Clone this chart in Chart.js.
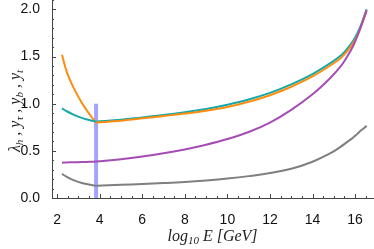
<!DOCTYPE html>
<html>
<head>
<meta charset="utf-8">
<script src="https://cdn.jsdelivr.net/npm/chart.js@4"></script>
<style>
  html, body { margin: 0; padding: 0; background: #fff; }
  #wrap { width: 374px; height: 249px; }
</style>
</head>
<body>
<div id="wrap"><canvas id="myChart"></canvas></div>
<script>
// log10 E [GeV] grid, below and above the threshold at 3.83
const leftE  = [2.23, 2.45, 2.77, 3.16, 3.55, 3.83];
const rightE = [3.83, 5, 6, 7, 8, 9, 10, 11, 12, 13, 14, 14.8, 15.3, 15.6, 15.9, 16.1, 16.3, 16.54];

const yTopL    = [0.95, 0.92, 0.885, 0.85, 0.825, 0.81];
const yTopR    = [0.81, 0.83, 0.855, 0.88, 0.91, 0.945, 0.99, 1.045, 1.115, 1.205, 1.315, 1.425, 1.505, 1.575, 1.665, 1.745, 1.85, 2.0];
const lambdaHL = [1.52, 1.34, 1.17, 1.01, 0.88, 0.80];
const lambdaHR = [0.80, 0.82, 0.845, 0.87, 0.895, 0.925, 0.965, 1.02, 1.09, 1.18, 1.29, 1.40, 1.48, 1.55, 1.64, 1.72, 1.83, 1.99];
const yBotL    = [0.375, 0.377, 0.379, 0.381, 0.384, 0.386];
const yBotR    = [0.386, 0.41, 0.44, 0.475, 0.515, 0.565, 0.625, 0.70, 0.80, 0.935, 1.10, 1.265, 1.39, 1.49, 1.61, 1.715, 1.835, 1.99];
const yTauL    = [0.255, 0.225, 0.19, 0.16, 0.14, 0.13];
const yTauR    = [0.13, 0.14, 0.148, 0.158, 0.17, 0.186, 0.206, 0.232, 0.265, 0.31, 0.385, 0.47, 0.54, 0.59, 0.64, 0.68, 0.72, 0.765];

// vertical marker
const markX = 3.83;
const markY = [0, 1.0];

const xTicks = [2, 4, 6, 8, 10, 12, 14, 16];
const yTicks = [0, 0.5, 1.0, 1.5, 2.0];

function seg(xs, ys, color) {
  return {
    data: xs.map((x, i) => ({ x: x, y: ys[i] })),
    borderColor: color,
    borderWidth: 2,
    pointRadius: 0,
    fill: false,
    tension: 0.4
  };
}

// tick marks pointing inward + axis titles with subscripts
const axisDeco = {
  id: 'axisDeco',
  afterDraw(chart) {
    const c = chart.ctx;
    const xs = chart.scales.x, ys = chart.scales.y;
    const a = chart.chartArea;
    c.save();
    c.strokeStyle = '#444';
    c.lineWidth = 1;
    c.beginPath();
    for (let v = 2; v <= 16.8; v += 0.5) {
      const px = Math.round(xs.getPixelForValue(v)) + 0.5;
      const len = (v % 2 === 0) ? 4 : 2;
      c.moveTo(px, a.bottom);
      c.lineTo(px, a.bottom - len);
    }
    for (let k = 0; k <= 21; k++) {
      const py = Math.round(ys.getPixelForValue(k / 10)) + 0.5;
      const len = (k % 5 === 0) ? 4 : 2;
      c.moveTo(a.left, py);
      c.lineTo(a.left + len, py);
    }
    c.stroke();

    c.fillStyle = '#222';
    const big = 'italic 16px "Liberation Serif"';
    const small = 'italic 11px "Liberation Serif"';
    drawParts(c, [['log', big, 0], ['10', small, 4], [' E [GeV]', big, 0]], (a.left + a.right) / 2, 237);

    c.translate(16, 111);
    c.rotate(-Math.PI / 2);
    drawParts(c, [['λ', big, 0], ['h', small, 4], [' , y', big, 0], ['τ', small, 4],
      [' , y', big, 0], ['b', small, 4], [' , y', big, 0], ['t', small, 4]], 0, 0);
    c.restore();
  }
};

function drawParts(c, parts, cx, cy) {
  let w = 0;
  parts.forEach(p => { c.font = p[1]; w += c.measureText(p[0]).width; });
  let x = cx - w / 2;
  c.textBaseline = 'middle';
  c.textAlign = 'left';
  parts.forEach(p => {
    c.font = p[1];
    c.fillText(p[0], x, cy + p[2]);
    x += c.measureText(p[0]).width;
  });
}

const gray = '#7f7f7f', purple = '#a64db5', orange = '#ff8c0f', teal = '#14a8a8';

const ctx = document.getElementById('myChart').getContext('2d');
new Chart(ctx, {
  type: 'line',
  data: {
    datasets: [
      seg(leftE, yTauL, gray), seg(rightE, yTauR, gray),
      seg(leftE, yBotL, purple), seg(rightE, yBotR, purple),
      seg(rightE, lambdaHR, orange),
      seg(leftE, yTopL, teal), seg(rightE, yTopR, teal),
      seg(leftE, lambdaHL, orange),
      {
        data: markY.map(v => ({ x: markX, y: v })),
        borderColor: 'rgba(125,125,255,0.7)',
        borderWidth: 4,
        pointRadius: 0,
        borderCapStyle: 'butt'
      }
    ]
  },
  options: {
    responsive: true,
    maintainAspectRatio: false,
    animation: false,
    layout: { padding: { top: 0, right: 1, left: 0, bottom: 0 } },
    plugins: { legend: { display: false }, tooltip: { enabled: false } },
    scales: {
      x: {
        type: 'linear',
        min: 1.76,
        max: 16.84,
        grid: { display: false },
        border: { display: true, color: '#444', width: 1 },
        afterBuildTicks: s => { s.ticks = xTicks.map(v => ({ value: v })); },
        afterFit: s => { s.height = 51; s.paddingLeft = 0; s.paddingRight = 0; },
        ticks: {
          padding: 6,
          color: '#111',
          font: { family: '"Liberation Sans"', size: 14 },
          maxRotation: 0
        }
      },
      y: {
        type: 'linear',
        min: 0,
        max: 2.1,
        grid: { display: false },
        border: { display: true, color: '#444', width: 1 },
        afterBuildTicks: s => { s.ticks = yTicks.map(v => ({ value: v })); },
        afterFit: s => { s.width = 52; s.paddingTop = 0; s.paddingBottom = 0; },
        ticks: {
          padding: 4,
          color: '#111',
          font: { family: '"Liberation Sans"', size: 14 },
          callback: v => v.toFixed(1)
        }
      }
    }
  },
  plugins: [axisDeco]
});
</script>
</body>
</html>
